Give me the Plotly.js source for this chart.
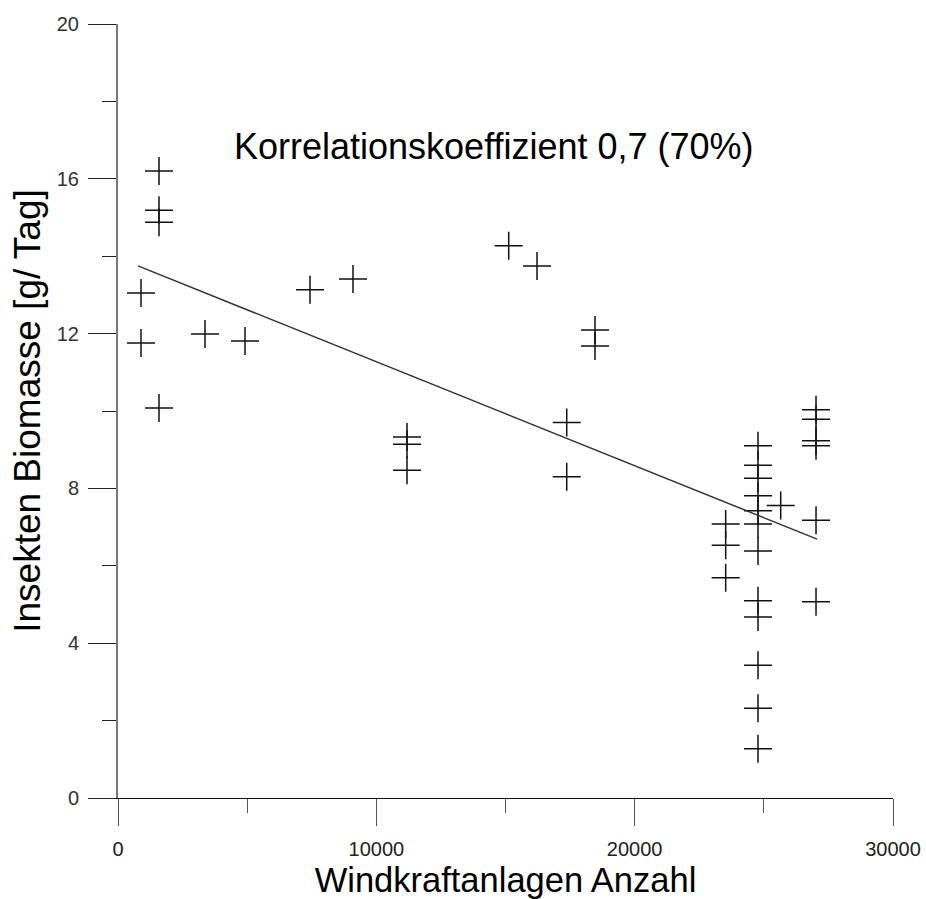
<!DOCTYPE html>
<html>
<head>
<meta charset="utf-8">
<script src="https://cdn.plot.ly/plotly-3.0.1.min.js"></script>
<style>html,body{margin:0;padding:0;background:#fff}#chart{width:926px;height:899px}</style>
</head>
<body>
<div id="chart"></div>
<script>
// Windkraftanlagen Anzahl (x) vs. Insekten Biomasse [g/Tag] (y)
const windAnlagen = [
  1587, 1587, 1587, 890, 890, 1587,
  3368, 4916, 7432, 9097,
  11187, 11187, 11187,
  15124, 16220,
  18465, 18465, 17370, 17370,
  24775, 24775, 24775, 24775, 24775, 24775, 24775, 24775, 24775, 24775, 24775, 24775,
  23523, 23523, 23523,
  25653,
  27020, 27020, 27020, 27020, 27020, 27020
];
const biomasse = [
  16.2, 15.19, 14.88, 13.05, 11.76, 10.08,
  11.99, 11.81, 13.13, 13.41,
  9.33, 9.14, 8.47,
  14.27, 13.75,
  12.09, 11.68, 9.70, 8.30,
  9.10, 8.60, 8.26, 7.81, 7.42, 7.08, 6.38, 5.10, 4.68, 3.43, 2.32, 1.27,
  7.08, 6.53, 5.69,
  7.56,
  10.03, 9.79, 9.23, 9.10, 7.18, 5.07
];
const trendX = [774, 27060];
const trendY = [13.75, 6.69];
const xTicks = [0, 10000, 20000, 30000];
const yTicks = [0, 4, 8, 12, 16, 20];
const annotationText = 'Korrelationskoeffizient 0,7 (70%)';
const xTitle = 'Windkraftanlagen Anzahl';
const yTitle = 'Insekten Biomasse [g/ Tag]';

const narrow = '"Liberation Sans Narrow", "Arial Narrow", "Liberation Sans", Arial, sans-serif';
const regular = '"Liberation Sans", Arial, sans-serif';

const data = [
  {
    x: windAnlagen, y: biomasse, type: 'scatter', mode: 'markers',
    marker: {symbol: 'cross-thin', size: 20, color: '#000', line: {color: '#111', width: 1.5}},
    hoverinfo: 'x+y'
  },
  {
    x: trendX, y: trendY, type: 'scatter', mode: 'lines',
    line: {color: '#333', width: 1.5}, hoverinfo: 'skip'
  }
];

const layout = {
  width: 926, height: 899,
  margin: {l: 118, r: 33, t: 24, b: 101},
  paper_bgcolor: '#fff', plot_bgcolor: '#fff',
  showlegend: false,
  xaxis: {
    range: [0, 30000], tickvals: xTicks, ticktext: xTicks.map(String),
    showgrid: false, zeroline: false,
    showline: true, linecolor: '#111', linewidth: 1,
    ticks: 'outside', ticklen: 27, tickwidth: 1, tickcolor: '#555',
    minor: {dtick: 5000, tick0: 0, ticks: 'outside', ticklen: 14, tickwidth: 1, tickcolor: '#555', showgrid: false},
    tickfont: {family: regular, size: 20, color: '#222'},
    ticklabelstandoff: 6,
    title: {text: xTitle, font: {family: narrow, size: 34.5, color: '#000'}, standoff: 10}
  },
  yaxis: {
    range: [0, 20], tickvals: yTicks, ticktext: yTicks.map(String),
    showgrid: false, zeroline: false,
    showline: true, linecolor: '#777', linewidth: 2,
    ticks: 'outside', ticklen: 28, tickwidth: 1, tickcolor: '#222',
    minor: {dtick: 2, tick0: 0, ticks: 'outside', ticklen: 14, tickwidth: 1, tickcolor: '#222', showgrid: false},
    tickfont: {family: regular, size: 20, color: '#333'},
    ticklabelstandoff: 5,
    title: {text: yTitle, font: {family: narrow, size: 37, color: '#000'}, standoff: 5}
  },
  annotations: [{
    text: annotationText, xref: 'paper', yref: 'paper',
    x: (494 - 118) / 775, y: (798 - 146) / 774,
    xanchor: 'center', yanchor: 'middle', showarrow: false,
    font: {family: regular, size: 36, color: '#000'}
  }]
};

Plotly.newPlot('chart', data, layout, {displayModeBar: false, staticPlot: true});
</script>
</body>
</html>
